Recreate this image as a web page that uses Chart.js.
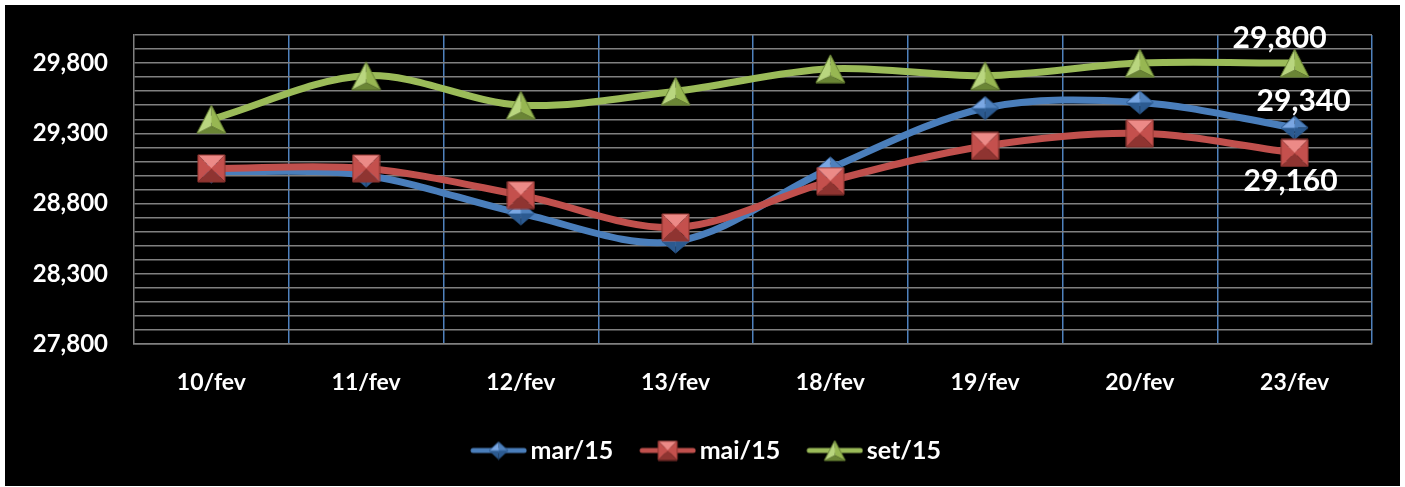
<!DOCTYPE html>
<html>
<head>
<meta charset="utf-8">
<title>Cotações</title>
<script src="https://cdn.jsdelivr.net/npm/chart.js@4.4.1/dist/chart.umd.min.js"></script>
<style>
  html, body { margin: 0; padding: 0; background: #fff; }
  #box { position: absolute; left: 5px; top: 5px; width: 1395px; height: 481px; background: #000; }
</style>
</head>
<body>
<div id="box"><canvas id="chart"></canvas></div>
<script>
// categorias e séries
var days = ['10/fev', '11/fev', '12/fev', '13/fev', '18/fev', '19/fev', '20/fev', '23/fev'];
var seriesNames = ['mar/15', 'mai/15', 'set/15'];
var mar15 = [29030, 29000, 28730, 28530, 29050, 29480, 29520, 29340];
var mai15 = [29050, 29050, 28860, 28630, 28960, 29210, 29300, 29160];
var set15 = [29400, 29710, 29500, 29600, 29760, 29710, 29800, 29800];

// eixo y
var yMin = 27800, yMax = 30000, yStep = 100;
var yLabelStep = 500, yLabelTop = 29800;

var FONT = 'Lato';

// cores: linha, faceta clara, base, faceta escura
var palette = [
  { line: '#4a7ebb', light: '#7aa7e3', base: '#4f81bd', dark: '#2c5a90' },
  { line: '#c0504d', light: '#ec8a87', base: '#c4504d', dark: '#8f3431' },
  { line: '#9bbb59', light: '#b9d67f', base: '#97b752', dark: '#6a8535' }
];
var shapes = ['rectRot', 'rect', 'triangle'];

// marcador com facetas (efeito pirâmide)
function facetMarker(shape, w, h, c) {
  var cv = document.createElement('canvas');
  cv.width = w + 2; cv.height = h + 2;
  var g = cv.getContext('2d');
  g.translate(1, 1);
  var cx = w / 2, cy = h / 2, pts, shades;
  if (shape === 'rect') {
    pts = [[0, 0], [w, 0], [w, h], [0, h]];
    shades = [c.light, c.base, c.dark, c.base];
  } else if (shape === 'rectRot') {
    pts = [[cx, 0], [w, cy], [cx, h], [0, cy]];
    shades = [c.base, c.dark, c.dark, c.light];
  } else {
    cy = h * 0.74;
    pts = [[cx, 0], [w, h], [0, h]];
    shades = [c.base, c.dark, c.light];
  }
  for (var i = 0; i < pts.length; i++) {
    var a = pts[i], b = pts[(i + 1) % pts.length];
    g.beginPath();
    g.moveTo(cx, cy); g.lineTo(a[0], a[1]); g.lineTo(b[0], b[1]);
    g.closePath();
    g.fillStyle = shades[i];
    g.fill();
  }
  g.beginPath();
  g.moveTo(pts[0][0], pts[0][1]);
  for (var j = 1; j < pts.length; j++) g.lineTo(pts[j][0], pts[j][1]);
  g.closePath();
  g.strokeStyle = c.dark;
  g.lineWidth = 1;
  g.stroke();
  return cv;
}

function markerFor(i, k) {
  var s = shapes[i];
  if (s === 'rect') return facetMarker(s, Math.round(27 * k), Math.round(27 * k), palette[i]);
  if (s === 'rectRot') return facetMarker(s, Math.round(27 * k), Math.round(23 * k), palette[i]);
  return facetMarker(s, Math.round(29 * k), Math.round(28 * k), palette[i]);
}

// ícone da legenda: linha + marcador (margem transparente à esquerda)
function legendIcon(i) {
  var cv = document.createElement('canvas');
  cv.width = 84; cv.height = 28;
  var g = cv.getContext('2d');
  g.strokeStyle = palette[i].line;
  g.lineWidth = 5;
  g.lineCap = 'round';
  g.beginPath();
  g.moveTo(30, 14); g.lineTo(81, 14);
  g.stroke();
  var m = markerFor(i, 0.72);
  g.drawImage(m, 55.5 - m.width / 2, 14 - m.height / 2);
  return cv;
}

var seriesData = [mar15, mai15, set15];
var datasets = seriesData.map(function (vals, i) {
  return {
    label: seriesNames[i],
    data: vals,
    borderColor: palette[i].line,
    backgroundColor: palette[i].base,
    borderWidth: 7,
    borderCapStyle: 'round',
    tension: 0.33,
    pointStyle: markerFor(i, 1),
    order: [2, 1, 0][i]
  };
});

// rótulos de valor no último ponto de cada série
var endLabelOffsets = [[9, -26], [-4, 28], [-15, -25]];
var endLabels = {
  id: 'endLabels',
  afterDatasetsDraw: function (chart) {
    var ctx = chart.ctx;
    ctx.save();
    ctx.font = 'bold 30px ' + FONT;
    ctx.fillStyle = '#fff';
    ctx.textAlign = 'center';
    ctx.textBaseline = 'middle';
    chart.data.datasets.forEach(function (ds, i) {
      var meta = chart.getDatasetMeta(i);
      var last = ds.data.length - 1;
      var pt = meta.data[last];
      ctx.fillText(ds.data[last].toLocaleString('en-US'), pt.x + endLabelOffsets[i][0], pt.y + endLabelOffsets[i][1]);
    });
    ctx.restore();
  }
};

new Chart(document.getElementById('chart'), {
  type: 'line',
  data: { labels: days, datasets: datasets },
  options: {
    responsive: true,
    maintainAspectRatio: false,
    animation: false,
    layout: { padding: { top: 30, right: 28, left: 16, bottom: 13 } },
    plugins: {
      tooltip: { enabled: false },
      legend: {
        position: 'bottom',
        labels: {
          color: '#fff',
          font: { family: FONT, size: 25, weight: 'bold' },
          usePointStyle: true,
          pointStyleWidth: 66,
          padding: 8,
          generateLabels: function (chart) {
            return chart.data.datasets.map(function (ds, i) {
              return {
                text: ds.label,
                fontColor: '#fff',
                pointStyle: legendIcon(i),
                datasetIndex: i,
                lineWidth: 0,
                hidden: false
              };
            });
          }
        }
      }
    },
    scales: {
      x: {
        offset: true,
        grid: {
          offset: true,
          drawTicks: false,
          lineWidth: 1.5,
          color: function (c) { return c.index === 0 ? 'rgba(0,0,0,0)' : '#4f81bd'; }
        },
        border: { color: '#808080', width: 1.5 },
        ticks: { color: '#fff', font: { family: FONT, size: 23, weight: 'bold' }, padding: 25, maxRotation: 0 },
        afterFit: function (s) { s.height = 86; s.paddingLeft = 0; s.paddingRight = 0; }
      },
      y: {
        min: yMin,
        max: yMax,
        grid: { drawTicks: false, color: '#808080', lineWidth: 1.5 },
        border: { color: '#808080', width: 1.5 },
        ticks: {
          stepSize: yStep,
          autoSkip: false,
          color: '#fff',
          padding: 26,
          font: { family: FONT, size: 24, weight: 'bold' },
          callback: function (v) {
            var n = Math.round(v);
            return ((n - yMin) % yLabelStep === 0 && n <= yLabelTop) ? n.toLocaleString('en-US') : '';
          }
        },
        afterFit: function (s) { s.width = 113; s.paddingTop = 0; s.paddingBottom = 0; }
      }
    }
  },
  plugins: [endLabels]
});
</script>
</body>
</html>
